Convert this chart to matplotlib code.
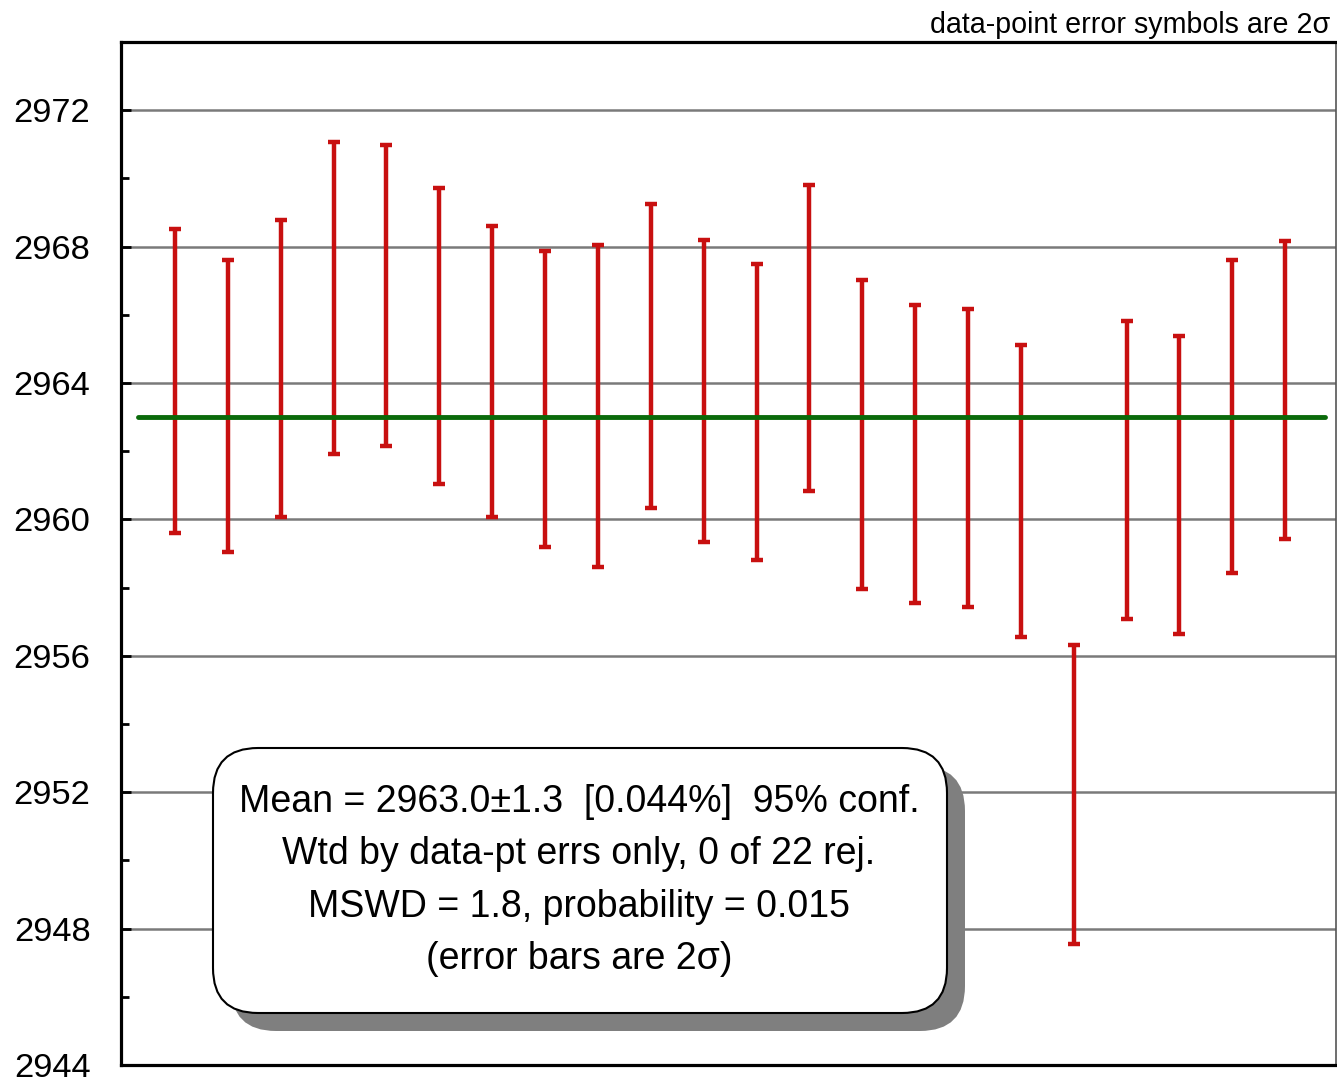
import matplotlib
matplotlib.use("Agg")
import matplotlib.pyplot as plt
from matplotlib.patches import FancyBboxPatch
import numpy as np

plt.rcParams['font.family'] = ['Liberation Sans', 'DejaVu Sans']

# weighted-mean plot data (value, 2-sigma error)
ages = [2964.06, 2963.33, 2964.43, 2966.49, 2966.56, 2965.38, 2964.34, 2963.53,
        2963.33, 2964.80, 2963.77, 2963.15, 2965.32, 2962.49, 2961.92, 2961.81,
        2960.84, 2951.94, 2961.45, 2961.01, 2963.02, 2963.80]
errs = [4.46, 4.28, 4.36, 4.57, 4.41, 4.34, 4.27, 4.34,
        4.72, 4.46, 4.43, 4.34, 4.48, 4.53, 4.37, 4.37,
        4.28, 4.38, 4.37, 4.37, 4.59, 4.37]
mean = 2963.0
yticks = [2944, 2948, 2952, 2956, 2960, 2964, 2968, 2972]
box_lines = ["Mean = 2963.0\u00b11.3  [0.044%]  95% conf.",
             "Wtd by data-pt errs only, 0 of 22 rej.",
             "MSWD = 1.8, probability = 0.015",
             "(error bars are 2\u03c3)"]

fig = plt.figure(figsize=(13.37, 10.8), dpi=100)
ax = fig.add_axes([121/1337, 15/1080, 1215/1337, 1023/1080])

x = np.arange(1, len(ages) + 1)
ax.errorbar(x, ages, yerr=errs, fmt='none', ecolor='#c81010', elinewidth=3.2,
            capsize=4.5, capthick=3.2, zorder=3)
ax.plot([0.3, 22.75], [mean, mean], color='#0a6a0a', lw=3.5, zorder=4,
        solid_capstyle='round')

ax.set_xlim(-0.02, 22.96)
ax.set_ylim(2944, 2974)
ax.set_yticks(yticks)
ax.set_yticks(np.arange(2946, 2974, 4), minor=True)
ax.set_xticks([])
ax.yaxis.grid(True, which='major', color='#7a7a7a', lw=1.8, zorder=1)
ax.set_axisbelow(True)
ax.tick_params(axis='y', which='major', direction='in', length=7, width=2,
               labelsize=24.8, pad=22)
ax.tick_params(axis='y', which='minor', direction='in', length=6, width=2)
for s in ['left', 'top', 'bottom']:
    ax.spines[s].set_linewidth(2.3)
ax.spines['right'].set_linewidth(1.2)
ax.spines['right'].set_color('#555555')

fig.text(1330/1337, 1 - 33/1080, "data-point error symbols are 2\u03c3",
         ha='right', va='baseline', fontsize=20.6)

# statistics box with drop shadow
bx, by, bw, bh = 2.13, 0.67, 7.34, 2.65
shadow = FancyBboxPatch((bx + 0.18, by - 0.18), bw, bh,
                        boxstyle="round,pad=0,rounding_size=0.45",
                        transform=fig.dpi_scale_trans, facecolor='#7f7f7f',
                        edgecolor='none', zorder=5)
box = FancyBboxPatch((bx, by), bw, bh,
                     boxstyle="round,pad=0,rounding_size=0.45",
                     transform=fig.dpi_scale_trans, facecolor='white',
                     edgecolor='black', lw=1.5, zorder=6)
fig.add_artist(shadow)
fig.add_artist(box)
for i, line in enumerate(box_lines):
    fig.text(579/1337, 1 - (812 + 52.3*i)/1080, line, ha='center',
             va='baseline', fontsize=27, zorder=7)

fig.savefig("out.png", dpi=100)
